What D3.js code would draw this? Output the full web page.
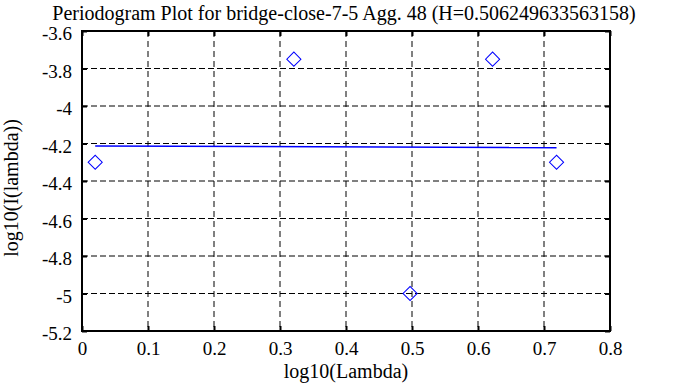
<!DOCTYPE html>
<html lang="en">
<head>
  <meta charset="UTF-8">
  <title>Periodogram Plot</title>
  <script src="https://d3js.org/d3.v7.min.js"></script>
  <style>
    body {
      margin: 0;
      background: white;
    }
    svg {
      display: block;
    }
    .serif {
      font-family: "Liberation Serif", "Times New Roman", Times, serif;
      fill: black;
    }
  </style>
</head>
<body>
  <svg width="688" height="387"></svg>

  <script>
    // periodogram points
    const lambdaLog = [0.0200, 0.3210, 0.4971, 0.6221, 0.7190];
    const powerLog = [-4.30, -3.75, -5.00, -3.75, -4.30];

    // fitted line endpoints (slope 1 - 2H)
    const fitX = [0.0200, 0.7190];
    const fitY = [-4.2133, -4.2221];

    const xTicks = [0, 0.1, 0.2, 0.3, 0.4, 0.5, 0.6, 0.7, 0.8];
    const yTicks = [-3.6, -3.8, -4, -4.2, -4.4, -4.6, -4.8, -5, -5.2];

    const title = "Periodogram Plot for bridge-close-7-5 Agg. 48 (H=0.506249633563158)";

    const margin = { top: 31, right: 78, bottom: 56, left: 82 };
    const width = 688 - margin.left - margin.right;
    const height = 387 - margin.top - margin.bottom;

    const svg = d3.select("svg");
    const g = svg.append("g").attr("transform", `translate(${margin.left},${margin.top})`);

    const x = d3.scaleLinear().domain([0, 0.8]).range([0, width]);
    const y = d3.scaleLinear().domain([-5.2, -3.6]).range([height, 0]);

    // grid
    g.append("g")
      .selectAll("line")
      .data(xTicks.slice(1, -1))
      .join("line")
      .attr("x1", d => x(d)).attr("x2", d => x(d))
      .attr("y1", 0).attr("y2", height)
      .attr("stroke", "black")
      .attr("stroke-dasharray", "6,4");

    g.append("g")
      .selectAll("line")
      .data(yTicks.slice(1, -1))
      .join("line")
      .attr("x1", 0).attr("x2", width)
      .attr("y1", d => y(d)).attr("y2", d => y(d))
      .attr("stroke", "black")
      .attr("stroke-dasharray", "6,3");

    // axes, ticks pointing inward
    const tickLen = 5;
    const fmt = d => String(d);
    const xAxis = g.append("g")
      .attr("transform", `translate(0,${height})`)
      .call(d3.axisBottom(x).tickValues(xTicks).tickFormat(fmt).tickSize(-tickLen).tickPadding(11));
    const yAxis = g.append("g")
      .call(d3.axisLeft(y).tickValues(yTicks).tickFormat(fmt).tickSize(-tickLen).tickPadding(10));
    g.append("g")
      .call(d3.axisTop(x).tickValues(xTicks).tickFormat("").tickSize(-tickLen));
    g.append("g")
      .attr("transform", `translate(${width},0)`)
      .call(d3.axisRight(y).tickValues(yTicks).tickFormat("").tickSize(-tickLen));

    g.selectAll(".domain").remove();
    g.selectAll("g").attr("font-family", null).attr("font-size", null);
    g.selectAll(".tick line").attr("stroke", "black").attr("stroke-width", 2);
    xAxis.selectAll("text").attr("class", "serif").attr("font-size", 19);
    yAxis.selectAll("text").attr("class", "serif").attr("font-size", 19).attr("dy", "0.45em");

    // frame
    g.append("rect")
      .attr("width", width)
      .attr("height", height)
      .attr("fill", "none")
      .attr("stroke", "black")
      .attr("stroke-width", 2);

    // fit line
    g.append("line")
      .attr("x1", x(fitX[0])).attr("y1", y(fitY[0]))
      .attr("x2", x(fitX[1])).attr("y2", y(fitY[1]))
      .attr("stroke", "#0000ff")
      .attr("stroke-width", 1.6);

    // diamond markers
    const diamond = d3.symbol().type(d3.symbolSquare).size(100);
    g.append("g")
      .selectAll("path")
      .data(lambdaLog.map((d, i) => [d, powerLog[i]]))
      .join("path")
      .attr("d", diamond)
      .attr("transform", d => `translate(${x(d[0])},${y(d[1])}) rotate(45)`)
      .attr("fill", "none")
      .attr("stroke", "#0000ff")
      .attr("stroke-width", 1);

    // labels
    svg.append("text")
      .attr("class", "serif")
      .attr("x", 344)
      .attr("y", 20)
      .attr("text-anchor", "middle")
      .attr("font-size", 20)
      .text(title);

    svg.append("text")
      .attr("class", "serif")
      .attr("x", margin.left + width / 2)
      .attr("y", 378)
      .attr("text-anchor", "middle")
      .attr("font-size", 20)
      .text("log10(Lambda)");

    svg.append("text")
      .attr("class", "serif")
      .attr("transform", `translate(18,${margin.top + height / 2 + 7}) rotate(-90)`)
      .attr("text-anchor", "middle")
      .attr("font-size", 20)
      .text("log10(I(lambda))");
  </script>
</body>
</html>
